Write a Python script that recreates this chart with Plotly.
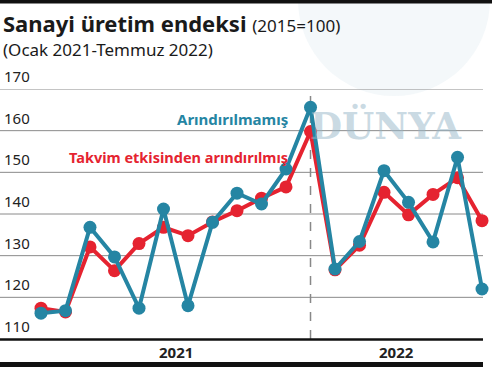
import plotly.graph_objects as go

months = ["Oca 21", "Şub 21", "Mar 21", "Nis 21", "May 21", "Haz 21", "Tem 21", "Ağu 21",
          "Eyl 21", "Eki 21", "Kas 21", "Ara 21", "Oca 22", "Şub 22", "Mar 22", "Nis 22",
          "May 22", "Haz 22", "Tem 22"]
arindirilmamis = [116.2, 116.8, 136.8, 129.7, 117.4, 141.2, 118.0, 138.0, 145.0, 142.4,
                  150.8, 165.6, 126.8, 133.4, 150.4, 142.8, 133.3, 153.6, 122.0]
takvim = [117.4, 116.5, 132.1, 126.4, 132.9, 136.8, 134.8, 138.1, 140.8, 143.8,
          146.5, 159.8, 126.6, 132.5, 145.2, 139.8, 144.7, 148.7, 138.4]
y_ticks = [110, 120, 130, 140, 150, 160, 170]
years = ["2021", "2022"]
year_centers = [5.5, 14.5]

TEAL = "#2585a3"
RED = "#e52330"
FONT = "Noto Sans"

x = list(range(len(months)))
fig = go.Figure()

fig.add_trace(go.Scatter(x=x, y=takvim, mode="lines+markers",
                         line=dict(color=RED, width=4),
                         marker=dict(color=RED, size=13), hoverinfo="skip", cliponaxis=False))
fig.add_trace(go.Scatter(x=x, y=arindirilmamis, mode="lines+markers",
                         line=dict(color=TEAL, width=4),
                         marker=dict(color=TEAL, size=13), hoverinfo="skip", cliponaxis=False))

H_PLOT = 367 - 89 - 28
W_PLOT = 483
def px(xp):
    return xp / W_PLOT
def py(yp):
    return (367 - 28 - yp) / H_PLOT

shapes = []
# globe watermark
shapes.append(dict(type="circle", xref="paper", yref="paper",
                   x0=px(298), x1=px(490), y0=py(96), y1=py(-96),
                   line=dict(width=0), fillcolor="rgba(200,218,228,0.2)", layer="below"))
# vertical dashed separator
shapes.append(dict(type="line", xref="x", yref="y", x0=11, x1=11, y0=110, y1=170,
                   line=dict(color="#888888", width=1.5, dash="dash"), layer="below"))
# gridlines
for t in y_ticks[1:]:
    shapes.append(dict(type="line", xref="paper", yref="y", x0=0, x1=1, y0=t, y1=t,
                       line=dict(color="#8a8a8a", width=1), layer="below"))
# top bar, axis line, bottom bar
shapes.append(dict(type="line", xref="paper", yref="paper", x0=px(0), x1=px(492), y0=py(1.5), y1=py(1.5),
                   line=dict(color="#111111", width=4)))
shapes.append(dict(type="line", xref="paper", yref="paper", x0=px(0), x1=px(483), y0=py(339.5), y1=py(339.5),
                   line=dict(color="#111111", width=2.5)))
shapes.append(dict(type="rect", xref="paper", yref="paper", x0=px(0), x1=px(483), y0=py(362), y1=py(367),
                   line=dict(width=0), fillcolor="#111111"))

annotations = []
for t in y_ticks:
    annotations.append(dict(xref="paper", yref="y", x=0.004, y=t, text=str(t),
                            showarrow=False, xanchor="left", yanchor="bottom", yshift=1,
                            font=dict(family=FONT, size=15, color="#222222")))
for yr, xc in zip(years, year_centers):
    annotations.append(dict(xref="x", yref="paper", x=xc, y=0, yanchor="middle", yshift=-13,
                            text="<b>" + yr + "</b>", showarrow=False,
                            font=dict(family=FONT, size=15, color="#222222")))
annotations.append(dict(xref="x", yref="y", x=10.15, y=162.7, text="<b>Arındırılmamış</b>",
                        showarrow=False, xanchor="right",
                        font=dict(family=FONT, size=15, color=TEAL)))
annotations.append(dict(xref="x", yref="y", x=10.15, y=153.6, text="<b>Takvim etkisinden arındırılmış</b>",
                        showarrow=False, xanchor="right",
                        font=dict(family=FONT, size=14.5, color=RED)))
annotations.append(dict(xref="x", yref="y", x=14.1, y=161.3, text="<b>DÜNYA</b>",
                        showarrow=False, xanchor="center",
                        font=dict(family="DejaVu Serif", size=37, color="rgba(150,182,200,0.5)")))
annotations.append(dict(xref="paper", yref="paper", x=px(1), y=py(23), xanchor="left", yanchor="middle",
                        text="<b>Sanayi üretim endeksi</b> <span style='font-size:17px'>(2015=100)</span>",
                        showarrow=False, font=dict(family=FONT, size=22, color="#1a1a1a")))
annotations.append(dict(xref="paper", yref="paper", x=px(1), y=py(49), xanchor="left", yanchor="middle",
                        text="(Ocak 2021-Temmuz 2022)", showarrow=False,
                        font=dict(family=FONT, size=17, color="#1a1a1a")))

fig.update_layout(
    width=492, height=367,
    margin=dict(l=0, r=9, t=89, b=28),
    paper_bgcolor="white", plot_bgcolor="rgba(0,0,0,0)",
    showlegend=False,
    xaxis=dict(range=[-1.673, 18.04], showgrid=False, zeroline=False, showticklabels=False,
               showline=False, fixedrange=True),
    yaxis=dict(range=[110, 170], showgrid=False, zeroline=False, showticklabels=False,
               showline=False, fixedrange=True),
    shapes=shapes,
    annotations=annotations,
)

fig.write_html("out.html", config={"displayModeBar": False},
               post_script="document.body.style.margin='0';document.body.style.overflow='hidden';")
